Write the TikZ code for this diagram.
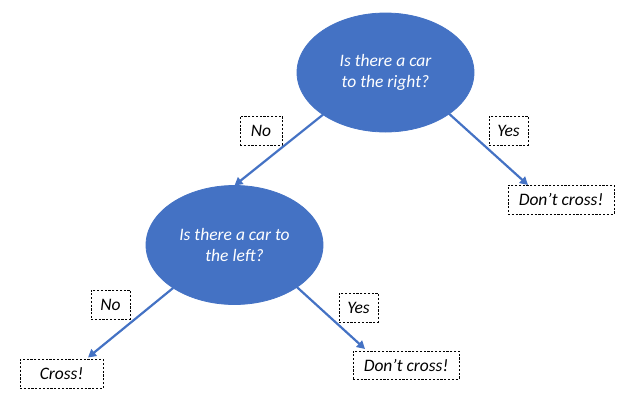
\documentclass[tikz,border=0pt]{standalone}
\usepackage{fontspec}
\setmainfont{Carlito}
\usetikzlibrary{shapes.geometric,arrows.meta,calc}
\definecolor{offblue}{HTML}{4472C4}
\begin{document}
\begin{tikzpicture}[x=1pt,y=-1pt,
  question/.style={ellipse,fill=offblue,draw=offblue,line width=0.8pt,inner sep=0pt,outer sep=0pt,
    minimum width=177pt,minimum height=119pt,text=white,align=center,
    font=\fontsize{17.5}{21}\selectfont\itshape},
  dbox/.style={draw=black,dashed,dash pattern=on 2.2pt off 1.6pt,line width=0.9pt,fill=white,
    inner sep=0pt,outer sep=0pt,minimum height=29pt,
    font=\fontsize{17.5}{21}\selectfont\itshape},
  arr/.style={draw=offblue,line width=2.2pt,-{Triangle[length=8pt,width=8.5pt]}}]
\useasboundingbox (0,0) rectangle (629,400);
\node[question] (e1) at (385.5,72.5) {Is there a car\\to the right?};
\node[question] (e2) at (234.5,245) {Is there a car to\\the left?};
\node[dbox,minimum width=42pt] (no1) at (261,130.5) {No};
\node[dbox,minimum width=39pt] (yes1) at (508.5,130.5) {Yes};
\node[dbox,minimum width=106pt] (dc1) at (561,199.5) {Don’t cross!};
\node[dbox,minimum width=39pt] (no2) at (110.5,304.5) {No};
\node[dbox,minimum width=39pt] (yes2) at (358.5,307.5) {Yes};
\node[dbox,minimum width=83pt] (cross) at (61.5,374) {Cross!};
\node[dbox,minimum width=106pt,minimum height=28pt] (dc2) at (406,365) {Don’t cross!};
\draw[arr] (e1.214) -- (e2.north);
\draw[arr] (e1.327) -- ($(dc1.north west)+(20,0)$);
\draw[arr] (e2.215) -- ($(cross.north)+(26.5,-2)$);
\draw[arr] (e2.326) -- ($(dc2.north west)+(12,-2)$);
\end{tikzpicture}
\end{document}
